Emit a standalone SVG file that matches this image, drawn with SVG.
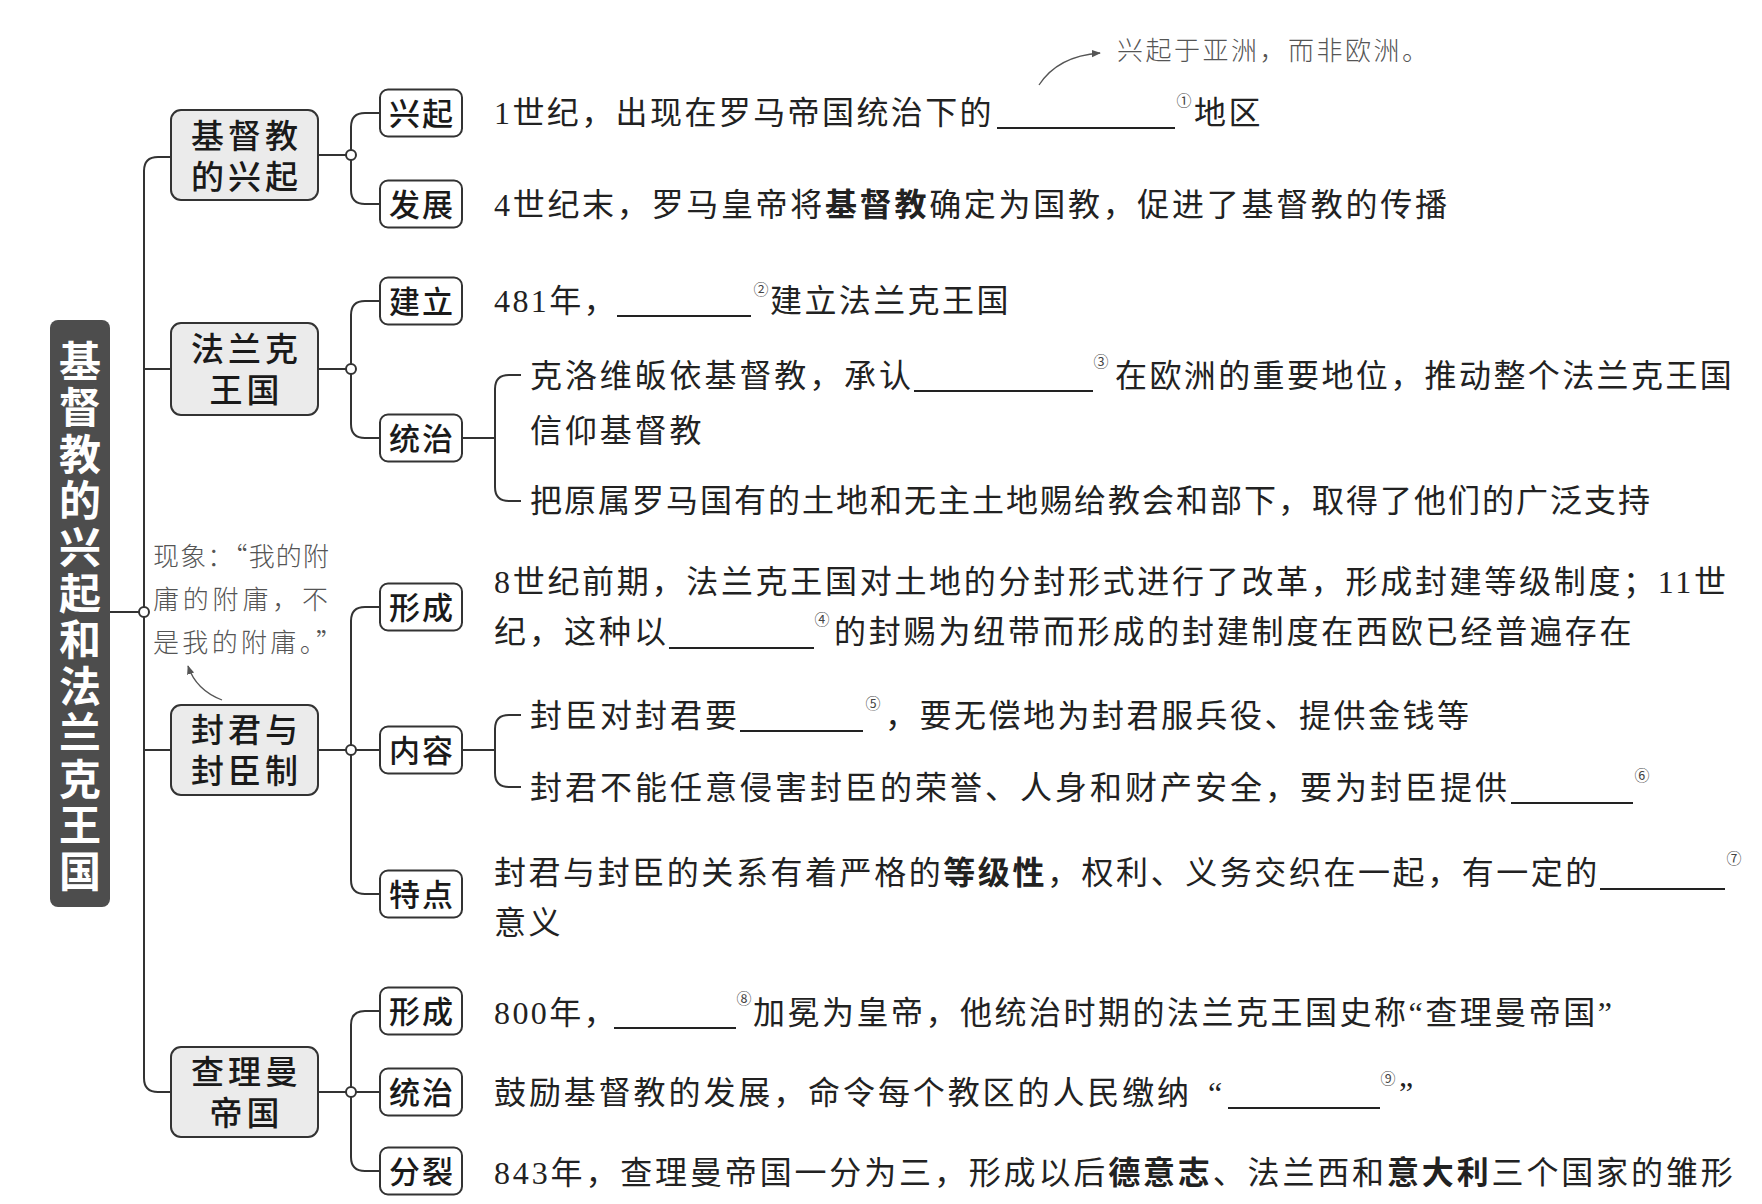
<svg xmlns="http://www.w3.org/2000/svg" width="1762" height="1204" viewBox="0 0 1762 1204">
<defs>
<style>
.t{font-family:"Liberation Serif","Noto Sans CJK SC",serif;font-size:32px;fill:#222}
.b{font-weight:bold;font-family:"Noto Sans CJK SC",sans-serif}
.n{font-family:"Noto Sans CJK SC",sans-serif;font-size:33px;font-weight:500;fill:#1a1a1a;text-anchor:middle;letter-spacing:4px}
.s{font-family:"Noto Sans CJK SC",sans-serif;font-size:31px;font-weight:500;fill:#1a1a1a;text-anchor:middle;letter-spacing:2px}
.c{font-family:"Noto Sans CJK SC","DejaVu Sans",sans-serif;font-size:15px;fill:#444;text-anchor:middle}
.h{font-family:"Noto Sans CJK SC",sans-serif;font-size:26px;font-weight:300;fill:#555}
.rt{font-family:"Noto Sans CJK SC",sans-serif;font-size:42px;font-weight:bold;fill:#fff;writing-mode:vertical-rl;letter-spacing:4.4px}
.box{fill:#ebebeb;stroke:#333;stroke-width:2}
.sbox{fill:#fff;stroke:#333;stroke-width:2}
.ln{fill:none;stroke:#333;stroke-width:2}
.jn{fill:#fff;stroke:#333;stroke-width:2}
.bl{stroke:#222;stroke-width:1.8}
.ar{fill:none;stroke:#555;stroke-width:1.3}
</style>
<marker id="ah" viewBox="0 0 10 10" refX="9" refY="5" markerWidth="7" markerHeight="7" orient="auto"><path d="M0,1 L10,5 L0,9 z" fill="#555"/></marker>
</defs>
<rect width="1762" height="1204" fill="#fff"/>

<g id="connectors">
<path class="ln" d="M171 157 H158 Q144 157 144 171 V1078 Q144 1092 158 1092 H171"/>
<path class="ln" d="M144 369 H171 M144 750 H171 M110 612 H144"/>
<path class="ln" d="M318 155 H351 M380 113 H365 Q351 113 351 127 V190 Q351 204 365 204 H380"/>
<path class="ln" d="M318 369 H351 M380 301 H365 Q351 301 351 315 V424 Q351 438 365 438 H380"/>
<path class="ln" d="M318 750 H380 M380 607 H365 Q351 607 351 621 V880 Q351 894 365 894 H380"/>
<path class="ln" d="M318 1092 H380 M380 1011 H365 Q351 1011 351 1025 V1157 Q351 1171 365 1171 H380"/>
<path class="ln" d="M462 438 H495 M521 375 H509 Q495 375 495 389 V487 Q495 501 509 501 H521"/>
<path class="ln" d="M462 750 H495 M521 715 H509 Q495 715 495 729 V773 Q495 787 509 787 H521"/>
<circle class="jn" cx="144" cy="612" r="5"/>
<circle class="jn" cx="351" cy="155" r="5"/>
<circle class="jn" cx="351" cy="369" r="5"/>
<circle class="jn" cx="351" cy="750" r="5"/>
<circle class="jn" cx="351" cy="1092" r="5"/>
<path class="ar" d="M1039 85 Q1058 56 1100 53" marker-end="url(#ah)"/>
<path class="ar" d="M222 700 Q196 690 188 666" marker-end="url(#ah)"/>
</g>

<g id="root">
<rect x="50" y="320" width="60" height="587" rx="8" fill="#4d4d4d"/>
<text class="rt" x="80" y="340">基督教的兴起和法兰克王国</text>
</g>

<g id="node-jidujiao">
<rect class="box" x="171" y="110" width="147" height="90" rx="10"/>
<text class="n" x="246.5" y="147.5">基督教</text>
<text class="n" x="246.5" y="188.5">的兴起</text>
</g>
<g id="node-falanke">
<rect class="box" x="171" y="323" width="147" height="92" rx="10"/>
<text class="n" x="246.5" y="361">法兰克</text>
<text class="n" x="246.5" y="402">王国</text>
</g>
<g id="node-fengjun">
<rect class="box" x="171" y="705" width="147" height="90" rx="10"/>
<text class="n" x="246.5" y="742">封君与</text>
<text class="n" x="246.5" y="783">封臣制</text>
</g>
<g id="node-chaliman">
<rect class="box" x="171" y="1047" width="147" height="90" rx="10"/>
<text class="n" x="246.5" y="1084">查理曼</text>
<text class="n" x="246.5" y="1125">帝国</text>
</g>

<g id="node-xingqi"><rect class="sbox" x="380" y="89.5" width="82" height="47" rx="8"/><text class="s" x="422" y="124.5">兴起</text></g>
<g id="node-fazhan"><rect class="sbox" x="380" y="180.5" width="82" height="47" rx="8"/><text class="s" x="422" y="215.5">发展</text></g>
<g id="node-jianli"><rect class="sbox" x="380" y="277.5" width="82" height="47" rx="8"/><text class="s" x="422" y="312.5">建立</text></g>
<g id="node-tongzhi1"><rect class="sbox" x="380" y="414.5" width="82" height="47" rx="8"/><text class="s" x="422" y="449.5">统治</text></g>
<g id="node-xingcheng1"><rect class="sbox" x="380" y="583.5" width="82" height="47" rx="8"/><text class="s" x="422" y="618.5">形成</text></g>
<g id="node-neirong"><rect class="sbox" x="380" y="726.5" width="82" height="47" rx="8"/><text class="s" x="422" y="761.5">内容</text></g>
<g id="node-tedian"><rect class="sbox" x="380" y="870.5" width="82" height="47" rx="8"/><text class="s" x="422" y="905.5">特点</text></g>
<g id="node-xingcheng2"><rect class="sbox" x="380" y="987.5" width="82" height="47" rx="8"/><text class="s" x="422" y="1022.5">形成</text></g>
<g id="node-tongzhi2"><rect class="sbox" x="380" y="1068.5" width="82" height="47" rx="8"/><text class="s" x="422" y="1103.5">统治</text></g>
<g id="node-fenlie"><rect class="sbox" x="380" y="1147.5" width="82" height="47" rx="8"/><text class="s" x="422" y="1182.5">分裂</text></g>

<g id="blanks">
<line class="bl" x1="997" y1="128" x2="1175" y2="128"/>
<line class="bl" x1="617" y1="316" x2="751" y2="316"/>
<line class="bl" x1="914" y1="391" x2="1093" y2="391"/>
<line class="bl" x1="669" y1="648" x2="814" y2="648"/>
<line class="bl" x1="740" y1="731" x2="863" y2="731"/>
<line class="bl" x1="1511" y1="803" x2="1633" y2="803"/>
<line class="bl" x1="1600" y1="889" x2="1725" y2="889"/>
<line class="bl" x1="614" y1="1028" x2="736" y2="1028"/>
<line class="bl" x1="1228" y1="1108" x2="1380" y2="1108"/>
</g>

<g id="texts">
<text class="t" x="494" y="124" letter-spacing="2.4">1世纪，出现在罗马帝国统治下的</text>
<text class="c" x="1184" y="106">①</text>
<text class="t" x="1194" y="124" letter-spacing="2.4">地区</text>

<text class="t" x="494" y="216" letter-spacing="2.7">4世纪末，罗马皇帝将<tspan class="b">基督教</tspan>确定为国教，促进了基督教的传播</text>

<text class="t" x="494" y="312" letter-spacing="2.4">481年，</text>
<text class="c" x="761" y="295">②</text>
<text class="t" x="770" y="312" letter-spacing="2.4">建立法兰克王国</text>

<text class="t" x="530" y="387" letter-spacing="2.9">克洛维皈依基督教，承认</text>
<text class="c" x="1101" y="367">③</text>
<text class="t" x="1115" y="387" letter-spacing="2.4">在欧洲的重要地位，推动整个法兰克王国</text>
<text class="t" x="530" y="442" letter-spacing="2.9">信仰基督教</text>
<text class="t" x="530" y="512" letter-spacing="2.0">把原属罗马国有的土地和无主土地赐给教会和部下，取得了他们的广泛支持</text>

<text class="t" x="494" y="593" letter-spacing="2.7">8世纪前期，法兰克王国对土地的分封形式进行了改革，形成封建等级制度；11世</text>
<text class="t" x="494" y="643" letter-spacing="3.0">纪，这种以</text>
<text class="c" x="822" y="625">④</text>
<text class="t" x="834" y="643" letter-spacing="2.8">的封赐为纽带而形成的封建制度在西欧已经普遍存在</text>

<text class="t" x="530" y="727" letter-spacing="3.0">封臣对封君要</text>
<text class="c" x="873" y="709">⑤</text>
<text class="t" x="885" y="727" letter-spacing="2.5">，要无偿地为封君服兵役、提供金钱等</text>
<text class="t" x="530" y="799" letter-spacing="3.0">封君不能任意侵害封臣的荣誉、人身和财产安全，要为封臣提供</text>
<text class="c" x="1642" y="781">⑥</text>

<text class="t" x="494" y="884" letter-spacing="2.56">封君与封臣的关系有着严格的<tspan class="b">等级性</tspan>，权利、义务交织在一起，有一定的</text>
<text class="c" x="1734" y="864">⑦</text>
<text class="t" x="494" y="934" letter-spacing="2.4">意义</text>

<text class="t" x="494" y="1024" letter-spacing="2.4">800年，</text>
<text class="c" x="744" y="1004">⑧</text>
<text class="t" x="753" y="1024" letter-spacing="2.5">加冕为皇帝，他统治时期的法兰克王国史称“查理曼帝国”</text>

<text class="t" x="494" y="1104" letter-spacing="2.9">鼓励基督教的发展，命令每个教区的人民缴纳</text>
<text class="t" x="1208" y="1104">“</text>
<text class="c" x="1388" y="1084">⑨</text>
<text class="t" x="1399" y="1104">”</text>

<text class="t" x="494" y="1184" letter-spacing="2.85">843年，查理曼帝国一分为三，形成以后<tspan class="b">德意志</tspan>、法兰西和<tspan class="b">意大利</tspan>三个国家的雏形</text>
</g>

<g id="notes">
<text class="h" x="1117" y="60" textLength="311" lengthAdjust="spacing">兴起于亚洲，而非欧洲。</text>
<text class="h" x="153" y="566" textLength="176" lengthAdjust="spacing">现象：“我的附</text>
<text class="h" x="153" y="609" textLength="175" lengthAdjust="spacing">庸的附庸，不</text>
<text class="h" x="153" y="652" textLength="189" lengthAdjust="spacing">是我的附庸。”</text>
</g>
</svg>
